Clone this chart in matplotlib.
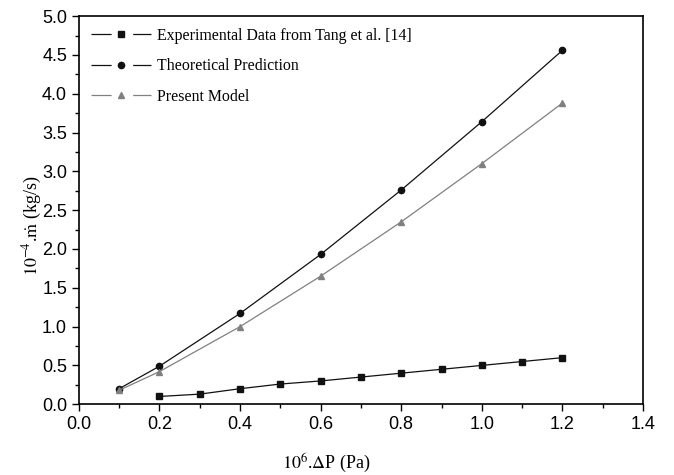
import matplotlib
matplotlib.use("Agg")
import matplotlib.pyplot as plt
from matplotlib.ticker import MultipleLocator
from matplotlib.lines import Line2D

exp_x = [0.2, 0.3, 0.4, 0.5, 0.6, 0.7, 0.8, 0.9, 1.0, 1.1, 1.2]
exp_y = [0.10, 0.13, 0.20, 0.26, 0.30, 0.35, 0.40, 0.45, 0.50, 0.55, 0.60]
theo_x = [0.1, 0.2, 0.4, 0.6, 0.8, 1.0, 1.2]
theo_y = [0.20, 0.49, 1.17, 1.93, 2.76, 3.64, 4.56]
pres_x = [0.1, 0.2, 0.4, 0.6, 0.8, 1.0, 1.2]
pres_y = [0.18, 0.42, 1.00, 1.65, 2.35, 3.10, 3.88]
labels = ['Experimental Data from Tang et al. [14]', 'Theoretical Prediction', 'Present Model']

plt.rcParams['mathtext.fontset'] = 'stix'
plt.rcParams['lines.scale_dashes'] = False
fig = plt.figure(figsize=(6.74, 4.75), dpi=100)
ax = fig.add_axes([0.117, 0.149, 0.837, 0.817])

styles = [
    dict(color='#111111', marker='s', ms=4.5),
    dict(color='#111111', marker='o', ms=4.5),
    dict(color='#808080', marker='^', ms=5),
]
for (xs, ys), st, lb in zip([(exp_x, exp_y), (theo_x, theo_y), (pres_x, pres_y)], styles, labels):
    ax.plot(xs, ys, lw=0.9, label=lb, **st)

handles = [Line2D([], [], lw=0.9, ls=(0, (14.5, 15.5, 14, 100)), **st) for st in styles]

ax.set_xlim(0, 1.4)
ax.set_ylim(0, 5.0)
ax.xaxis.set_major_locator(MultipleLocator(0.2))
ax.xaxis.set_minor_locator(MultipleLocator(0.1))
ax.yaxis.set_major_locator(MultipleLocator(0.5))
ax.yaxis.set_minor_locator(MultipleLocator(0.25))
ax.xaxis.set_major_formatter(plt.FuncFormatter(lambda v, p: f"{v:.1f}"))
ax.yaxis.set_major_formatter(plt.FuncFormatter(lambda v, p: f"{v:.1f}"))
ax.tick_params(which='both', direction='out', top=False, right=False, width=1.0)
ax.tick_params(which='major', length=5, labelsize=13)
ax.tick_params(which='minor', length=3)
for lbl in ax.get_xticklabels() + ax.get_yticklabels():
    lbl.set_fontfamily('Liberation Sans')
for s in ax.spines.values():
    s.set_linewidth(1.2)

ax.set_xlabel(r'$10^{6}$.$\Delta$P (Pa)', fontfamily='Liberation Serif', fontsize=13)
ax.xaxis.set_label_coords(0.438, -0.122)
ax.set_ylabel(r'$10^{-4}$.$\dot{\mathrm{m}}$ (kg/s)', fontfamily='Liberation Serif', fontsize=13)
ax.yaxis.set_label_coords(-0.062, 0.459)

leg = ax.legend(handles, labels, loc='upper left', frameon=False, handlelength=3.8, numpoints=1,
                prop={'family': 'Liberation Serif', 'size': 11.4}, labelspacing=0.9,
                handletextpad=0.4, borderaxespad=0.35)
fig.savefig('out.png', dpi=100)
